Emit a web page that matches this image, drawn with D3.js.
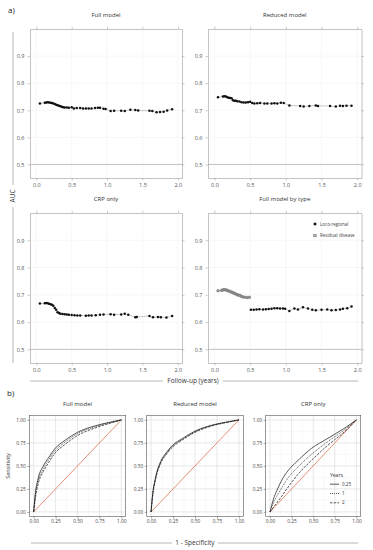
<!DOCTYPE html>
<html>
<head>
<meta charset="utf-8">
<script src="https://cdnjs.cloudflare.com/ajax/libs/d3/7.8.5/d3.min.js"></script>
<style>
  body { margin: 0; background: #fff; }
  text { font-family: "Open Sans", sans-serif; }
</style>
</head>
<body>
<svg id="chart" width="373" height="550"></svg>
<script>
// ---- a) time-dependent AUC ----
const fullT   = [0.05,0.12,0.14,0.16,0.18,0.2,0.22,0.24,0.26,0.28,0.3,0.32,0.34,0.36,0.38,0.4,0.43,0.46,0.5,0.53,0.57,0.62,0.66,0.7,0.74,0.78,0.83,0.87,0.9,0.95,0.98,1.05,1.1,1.2,1.25,1.33,1.4,1.44,1.6,1.64,1.7,1.75,1.8,1.85,1.92];
const fullAUC = [0.725,0.728,0.729,0.73,0.729,0.728,0.727,0.725,0.723,0.72,0.719,0.717,0.715,0.713,0.711,0.71,0.71,0.709,0.711,0.707,0.708,0.708,0.707,0.707,0.707,0.707,0.708,0.709,0.709,0.706,0.705,0.697,0.698,0.698,0.697,0.702,0.701,0.699,0.698,0.697,0.693,0.694,0.695,0.699,0.704];

const redT   = [0.05,0.12,0.14,0.16,0.18,0.2,0.22,0.24,0.26,0.28,0.3,0.32,0.35,0.38,0.41,0.44,0.47,0.5,0.53,0.56,0.6,0.64,0.7,0.74,0.8,0.84,0.88,0.93,0.97,1.05,1.2,1.25,1.33,1.42,1.45,1.62,1.7,1.76,1.8,1.85,1.92];
const redAUC = [0.748,0.751,0.752,0.751,0.748,0.746,0.745,0.744,0.737,0.735,0.735,0.733,0.732,0.73,0.729,0.729,0.73,0.731,0.727,0.725,0.726,0.727,0.725,0.725,0.725,0.726,0.725,0.728,0.727,0.718,0.716,0.714,0.716,0.718,0.716,0.716,0.714,0.717,0.716,0.717,0.717];

const crpT   = [0.05,0.12,0.14,0.16,0.18,0.2,0.22,0.24,0.26,0.28,0.3,0.32,0.34,0.37,0.4,0.43,0.46,0.5,0.54,0.58,0.62,0.7,0.74,0.78,0.84,0.9,0.95,1.05,1.1,1.2,1.25,1.3,1.4,1.42,1.6,1.65,1.72,1.76,1.84,1.92];
const crpAUC = [0.668,0.669,0.67,0.669,0.667,0.665,0.664,0.66,0.652,0.645,0.636,0.633,0.631,0.63,0.629,0.628,0.627,0.626,0.625,0.624,0.624,0.623,0.624,0.624,0.625,0.627,0.628,0.629,0.627,0.628,0.631,0.627,0.618,0.619,0.622,0.618,0.619,0.618,0.617,0.622];

const resT   = [0.05,0.1,0.12,0.14,0.16,0.18,0.2,0.22,0.24,0.26,0.28,0.3,0.32,0.34,0.36,0.38,0.4,0.43,0.46,0.49];
const resAUC = [0.715,0.716,0.718,0.719,0.718,0.716,0.714,0.712,0.71,0.708,0.705,0.703,0.7,0.699,0.697,0.694,0.692,0.691,0.69,0.691];
const locoT   = [0.51,0.55,0.59,0.63,0.68,0.72,0.76,0.8,0.84,0.88,0.92,0.96,0.99,1.05,1.12,1.17,1.24,1.31,1.37,1.42,1.5,1.58,1.64,1.7,1.76,1.8,1.86,1.92];
const locoAUC = [0.645,0.645,0.646,0.647,0.646,0.647,0.648,0.649,0.651,0.651,0.65,0.65,0.649,0.641,0.65,0.646,0.654,0.65,0.645,0.643,0.645,0.646,0.643,0.644,0.646,0.649,0.651,0.657];

const aucXTicks = [0, 0.5, 1, 1.5, 2];
const aucYTicks = [0.5, 0.6, 0.7, 0.8, 0.9];

// ---- b) ROC curves ----
const modelFpr = [0, 0.015, 0.05, 0.11, 0.17, 0.24, 0.36, 0.5, 0.7, 0.88, 1];
const fullTpr = {
  '0.25': [0, 0.17, 0.36, 0.50, 0.59, 0.685, 0.78, 0.865, 0.935, 0.977, 1],
  '1':    [0, 0.15, 0.33, 0.47, 0.565, 0.66, 0.76, 0.85, 0.925, 0.972, 1],
  '2':    [0, 0.12, 0.30, 0.44, 0.535, 0.635, 0.735, 0.83, 0.912, 0.966, 1]
};
const redTpr = {
  '0.25': [0, 0.17, 0.37, 0.55, 0.64, 0.72, 0.80, 0.878, 0.945, 0.98, 1],
  '1':    [0, 0.16, 0.36, 0.54, 0.63, 0.71, 0.79, 0.87, 0.94, 0.978, 1],
  '2':    [0, 0.15, 0.35, 0.53, 0.62, 0.70, 0.785, 0.865, 0.937, 0.976, 1]
};
const crpFpr = [0, 0.04, 0.08, 0.135, 0.21, 0.325, 0.48, 0.67, 0.86, 1];
const crpTpr = {
  '0.25': [0, 0.14, 0.234, 0.343, 0.45, 0.56, 0.69, 0.80, 0.908, 1],
  '1':    [0, 0.10, 0.17, 0.26, 0.37, 0.49, 0.625, 0.765, 0.89, 1],
  '2':    [0, 0.05, 0.10, 0.17, 0.27, 0.41, 0.56, 0.725, 0.87, 1]
};
const years = ['0.25', '1', '2'];
const rocTicks = [0, 0.25, 0.5, 0.75, 1];
const rocMinor = [0.125, 0.375, 0.625, 0.875];

const svg = d3.select('#chart');
const dash = {'0.25': null, '1': '1,1', '2': '2.5,1.2'};

function aucPanel(box, title, series) {
  const x = d3.scaleLinear().domain([-0.09, 2.06]).range([box.x0, box.x1]);
  const y = d3.scaleLinear().domain([0.45, 1.0]).range([box.y1, box.y0]);
  const g = svg.append('g');

  g.append('g').selectAll('line.vg').data(aucXTicks).join('line')
    .attr('x1', d => x(d)).attr('x2', d => x(d)).attr('y1', box.y0).attr('y2', box.y1)
    .attr('stroke', '#eeeeee').attr('stroke-width', 0.5);
  g.append('g').selectAll('line.hg').data(aucYTicks.filter(d => d !== 0.5)).join('line')
    .attr('y1', d => y(d)).attr('y2', d => y(d)).attr('x1', box.x0).attr('x2', box.x1)
    .attr('stroke', '#eeeeee').attr('stroke-width', 0.5);
  g.append('line').attr('x1', box.x0).attr('x2', box.x1)
    .attr('y1', y(0.5)).attr('y2', y(0.5)).attr('stroke', '#999').attr('stroke-width', 0.6);

  const axes = [
    [d3.axisLeft(y).tickValues(aucYTicks).tickFormat(d3.format('.1f')), `translate(${box.x0},0)`, true],
    [d3.axisBottom(x).tickValues(aucXTicks).tickFormat(d3.format('.1f')), `translate(0,${box.y1})`, true],
    [d3.axisTop(x).tickValues(aucXTicks).tickFormat(''), `translate(0,${box.y0})`, false],
    [d3.axisRight(y).tickValues(aucYTicks).tickFormat(''), `translate(${box.x1},0)`, false]
  ];
  axes.forEach(([ax, tr]) => {
    const a = g.append('g').attr('transform', tr)
      .call(ax.tickSize(2.5).tickPadding(3).tickSizeOuter(0));
    a.select('.domain').attr('stroke', '#aaa').attr('stroke-width', 0.7);
    a.selectAll('.tick line').attr('stroke', '#999').attr('stroke-width', 0.5);
    a.selectAll('.tick text').attr('font-size', 5.5).attr('fill', '#555')
      .style('font-family', '"Open Sans", sans-serif');
  });

  series.forEach(s => {
    const pts = s.t.map((t, i) => [t, s.v[i]]);
    g.append('path').datum(pts)
      .attr('d', d3.line().x(d => x(d[0])).y(d => y(d[1])))
      .attr('fill', 'none').attr('stroke', '#777').attr('stroke-width', 0.4);
    g.append('g').selectAll('circle').data(pts).join('circle')
      .attr('cx', d => x(d[0])).attr('cy', d => y(d[1])).attr('r', s.r || 1.25)
      .attr('fill', s.fill).attr('stroke', s.stroke || 'none').attr('stroke-width', 0.4);
  });

  g.append('text').attr('x', (box.x0 + box.x1) / 2).attr('y', box.y0 - 12)
    .attr('text-anchor', 'middle').attr('font-size', 6).attr('fill', '#333').text(title);
  return {g, x, y};
}

const P1 = {x0: 30, x1: 182, y0: 29, y1: 178};
const P2 = {x0: 208, x1: 361.5, y0: 29, y1: 178};
const P3 = {x0: 30, x1: 182, y0: 213, y1: 363};
const P4 = {x0: 208, x1: 361.5, y0: 213, y1: 363};

aucPanel(P1, 'Full model', [{t: fullT, v: fullAUC, fill: '#111'}]);
aucPanel(P2, 'Reduced model', [{t: redT, v: redAUC, fill: '#111'}]);
aucPanel(P3, 'CRP only', [{t: crpT, v: crpAUC, fill: '#111'}]);
const p4 = aucPanel(P4, 'Full model by type', [
  {t: resT, v: resAUC, fill: '#999', stroke: '#555', r: 1.35},
  {t: locoT, v: locoAUC, fill: '#111'}
]);

// legend in panel 4
const typeLegend = [{label: 'Loco-regional', fill: '#111', stroke: 'none'}, {label: 'Residual disease', fill: '#aaa', stroke: '#777'}];
const lg = p4.g.append('g').attr('transform', 'translate(315,224)');
typeLegend.forEach((d, i) => {
  lg.append('rect').attr('x', -1.3).attr('y', i * 11.5 - 1.3).attr('width', 2.6).attr('height', 2.6)
    .attr('fill', d.fill).attr('stroke', d.stroke).attr('stroke-width', 0.4);
  lg.append('text').attr('x', 5).attr('y', i * 11.5).attr('dy', '0.35em')
    .attr('font-size', 4.5).attr('fill', '#444').text(d.label);
});

// ---- ROC panels ----
function rocPanel(box, title, fpr, tprs, yLabelX) {
  const x = d3.scaleLinear().domain([-0.05, 1.05]).range([box.x0, box.x1]);
  const y = d3.scaleLinear().domain([-0.05, 1.05]).range([box.y1, box.y0]);
  const g = svg.append('g');

  g.append('g').selectAll('line').data(rocMinor).join('line')
    .attr('x1', d => x(d)).attr('x2', d => x(d)).attr('y1', box.y0).attr('y2', box.y1)
    .attr('stroke', '#eeeeee').attr('stroke-width', 0.4);
  g.append('g').selectAll('line').data(rocMinor).join('line')
    .attr('y1', d => y(d)).attr('y2', d => y(d)).attr('x1', box.x0).attr('x2', box.x1)
    .attr('stroke', '#eeeeee').attr('stroke-width', 0.4);
  g.append('g').selectAll('line').data(rocTicks).join('line')
    .attr('x1', d => x(d)).attr('x2', d => x(d)).attr('y1', box.y0).attr('y2', box.y1)
    .attr('stroke', '#d9d9d9').attr('stroke-width', 0.6);
  g.append('g').selectAll('line').data(rocTicks).join('line')
    .attr('y1', d => y(d)).attr('y2', d => y(d)).attr('x1', box.x0).attr('x2', box.x1)
    .attr('stroke', '#d9d9d9').attr('stroke-width', 0.6);

  g.append('line').attr('x1', x(0)).attr('y1', y(0)).attr('x2', x(1)).attr('y2', y(1))
    .attr('stroke', '#d9603f').attr('stroke-width', 0.7);

  const line = d3.line().x(d => x(d[0])).y(d => y(d[1])).curve(d3.curveMonotoneX);
  years.forEach(k => {
    g.append('path').datum(fpr.map((f, i) => [f, tprs[k][i]]))
      .attr('d', line).attr('fill', 'none').attr('stroke', '#111')
      .attr('stroke-width', 0.7).attr('stroke-dasharray', dash[k]);
  });

  g.append('rect').attr('x', box.x0).attr('y', box.y0)
    .attr('width', box.x1 - box.x0).attr('height', box.y1 - box.y0)
    .attr('fill', 'none').attr('stroke', '#555').attr('stroke-width', 0.6);

  const fmt = d3.format('.2f');
  const ax = g.append('g').attr('transform', `translate(0,${box.y1})`)
    .call(d3.axisBottom(x).tickValues(rocTicks).tickFormat(fmt).tickSize(2).tickPadding(1.5));
  const ay = g.append('g').attr('transform', `translate(${box.x0},0)`)
    .call(d3.axisLeft(y).tickValues(rocTicks).tickFormat(fmt).tickSize(2).tickPadding(1.5));
  [ax, ay].forEach(a => {
    a.select('.domain').remove();
    a.selectAll('.tick line').attr('stroke', '#555').attr('stroke-width', 0.5);
    a.selectAll('.tick text').attr('font-size', 4.8).attr('fill', '#444')
      .style('font-family', '"Open Sans", sans-serif');
  });

  g.append('text').attr('x', (box.x0 + box.x1) / 2).attr('y', box.y0 - 9)
    .attr('text-anchor', 'middle').attr('font-size', 6).attr('fill', '#333').text(title);
  return {g, x, y};
}

const R1 = {x0: 29.3, x1: 125.7, y0: 415.3, y1: 516.5};
const R2 = {x0: 146.7, x1: 243.3, y0: 415.3, y1: 516.5};
const R3 = {x0: 265.7, x1: 360.7, y0: 415.3, y1: 516.5};
rocPanel(R1, 'Full model', modelFpr, fullTpr);
rocPanel(R2, 'Reduced model', modelFpr, redTpr);
const r3 = rocPanel(R3, 'CRP only', crpFpr, crpTpr);

// years legend
const yl = svg.append('g').attr('transform', 'translate(330,475)');
yl.append('text').attr('x', 0).attr('y', 0).attr('dy', '0.35em')
  .attr('font-size', 5).attr('fill', '#333').text('Years');
years.forEach((k, i) => {
  const yy = 9.2 + i * 9.3;
  yl.append('line').attr('x1', 0).attr('x2', 9).attr('y1', yy).attr('y2', yy)
    .attr('stroke', '#111').attr('stroke-width', 0.7).attr('stroke-dasharray', dash[k]);
  yl.append('text').attr('x', 12).attr('y', yy).attr('dy', '0.35em')
    .attr('font-size', 4.6).attr('fill', '#333').text(k);
});

// ---- shared labels ----
svg.append('text').attr('x', 8).attr('y', 13).attr('font-size', 8).attr('fill', '#222').text('a)');
svg.append('text').attr('x', 7).attr('y', 396).attr('font-size', 8).attr('fill', '#222').text('b)');

svg.append('text').attr('transform', 'translate(15,196) rotate(-90)')
  .attr('text-anchor', 'middle').attr('font-size', 6.5).attr('fill', '#333').text('AUC');
[[32, 185], [207, 363]].forEach(([a, b]) => svg.append('line')
  .attr('x1', 13).attr('x2', 13).attr('y1', a).attr('y2', b).attr('stroke', '#888').attr('stroke-width', 0.6));

svg.append('text').attr('x', 193).attr('y', 381).attr('dy', '0.35em')
  .attr('text-anchor', 'middle').attr('font-size', 6.5).attr('fill', '#333').text('Follow-up (years)');
[[30, 163], [223, 358]].forEach(([a, b]) => svg.append('line')
  .attr('x1', a).attr('x2', b).attr('y1', 381).attr('y2', 381).attr('stroke', '#888').attr('stroke-width', 0.6));

svg.append('text').attr('transform', 'translate(8,466) rotate(-90)')
  .attr('text-anchor', 'middle').attr('dy', '0.35em').attr('font-size', 5.5).attr('fill', '#333').text('Sensitivity');

svg.append('text').attr('x', 195).attr('y', 543).attr('dy', '0.35em')
  .attr('text-anchor', 'middle').attr('font-size', 6.5).attr('fill', '#333').text('1 - Specificity');
[[31, 172], [218, 358]].forEach(([a, b]) => svg.append('line')
  .attr('x1', a).attr('x2', b).attr('y1', 543).attr('y2', 543).attr('stroke', '#888').attr('stroke-width', 0.6));
</script>
</body>
</html>
